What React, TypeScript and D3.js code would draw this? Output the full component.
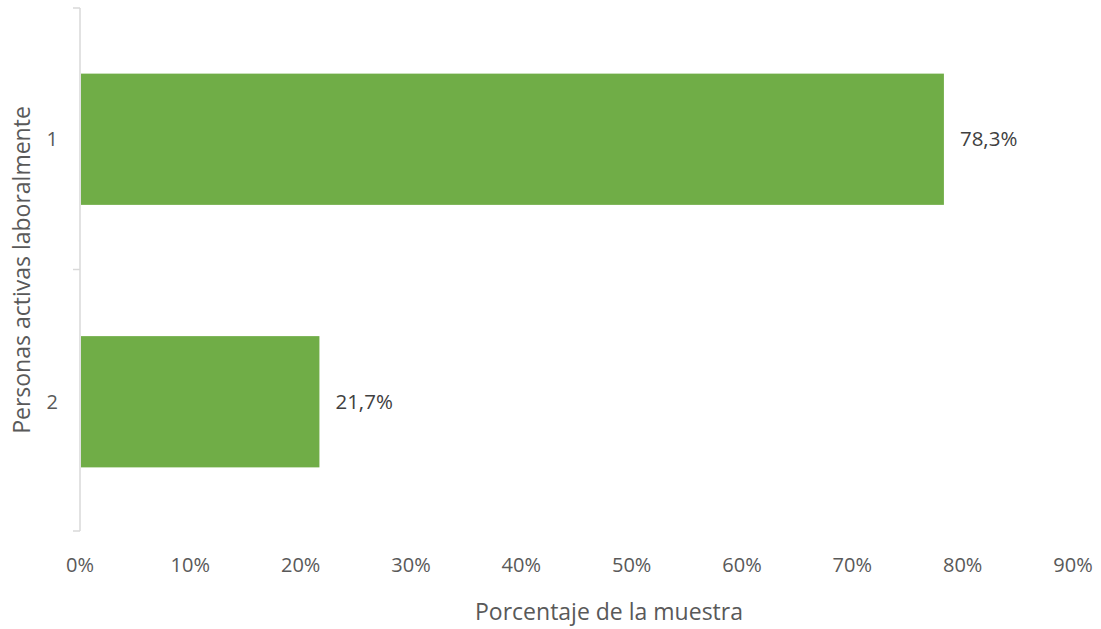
import React from "react";
import * as d3 from "d3";

const categories: string[] = ["1", "2"];
const values: number[] = [78.3, 21.7];
const valueLabels: string[] = ["78,3%", "21,7%"];
const xTicks: number[] = [0, 10, 20, 30, 40, 50, 60, 70, 80, 90];
const xTitle = "Porcentaje de la muestra";
const yTitle = "Personas activas laboralmente";

export default function App() {
  const W = 1101, H = 629;
  const x = d3.scaleLinear().domain([0, 90]).range([80, 1073]);
  const y = d3.scaleBand<string>().domain(categories).range([8, 533]).paddingInner(0.5).paddingOuter(0.25);
  const font = "'Open Sans', 'Noto Sans', sans-serif";
  const yTicks = [8, 269.5, 531];
  return (
    <svg width={W} height={H} style={{ position: "absolute", left: 0, top: 0, background: "#fff" }} fontFamily={font}>
      <rect x={0} y={0} width={W} height={H} fill="#fff" />
      {categories.map((c, i) => (
        <g key={c}>
          <rect x={x(0) + 1} y={y(c)!} width={x(values[i]) - x(0) - 1} height={y.bandwidth()} fill="#70AD47" />
          <text x={x(values[i]) + 16} y={y(c)! + y.bandwidth() / 2} dy="0.35em" fontSize={20.5} fill="#404040">{valueLabels[i]}</text>
          <text x={58} y={y(c)! + y.bandwidth() / 2} dy="0.35em" fontSize={20} fill="#595959" textAnchor="end">{c}</text>
        </g>
      ))}
      <line x1={80} x2={80} y1={8} y2={531} stroke="#D9D9D9" strokeWidth={1.5} />
      {yTicks.map((t, i) => (
        <line key={i} x1={73} x2={80} y1={t} y2={t} stroke="#D9D9D9" strokeWidth={1.5} />
      ))}
      {xTicks.map((t) => (
        <text key={t} x={x(t)} y={565} dy="0.35em" fontSize={20} fill="#595959" textAnchor="middle">{t}%</text>
      ))}
      <text x={609} y={612} dy="0.35em" fontSize={23} fill="#595959" textAnchor="middle">{xTitle}</text>
      <text transform={`translate(22, 270) rotate(-90)`} dy="0.35em" fontSize={23} fill="#595959" textAnchor="middle">{yTitle}</text>
    </svg>
  );
}
